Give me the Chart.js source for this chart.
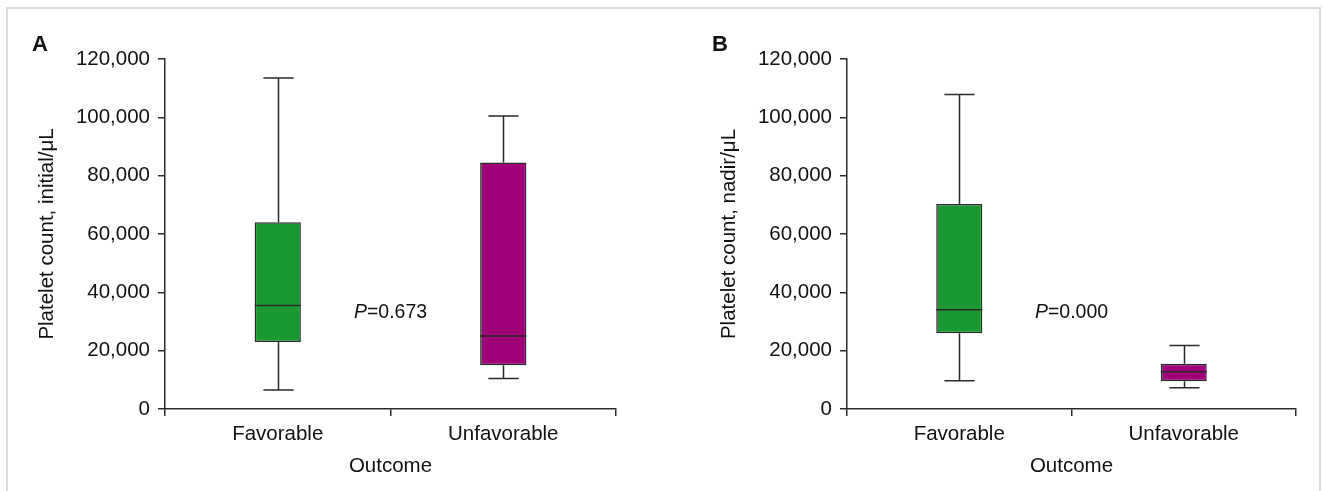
<!DOCTYPE html>
<html>
<head>
<meta charset="utf-8">
<script src="https://cdn.jsdelivr.net/npm/chart.js@4"></script>
<style>
  body { margin: 0; background: #fff; width: 1323px; height: 491px; overflow: hidden; position: relative; }
  .frame { position: absolute; left: 6px; top: 7px; width: 1311px; height: 490px;
           border: 2px solid #dcdcdc; border-bottom: none; }
  canvas { position: absolute; top: 0; }
  .panel { position: absolute; font: bold 22px "Liberation Sans", Arial, sans-serif; color: #111; }
</style>
</head>
<body>
<div class="frame"></div>
<canvas id="chartA" width="661" height="491" style="left:0"></canvas>
<canvas id="chartB" width="662" height="491" style="left:661px"></canvas>
<div class="panel" style="left:32px;top:31px">A</div>
<div class="panel" style="left:712px;top:31px">B</div>
<script>
// categories and box plot summaries
const outcomes = ['Favorable', 'Unfavorable'];
const yTicks = [0, 20000, 40000, 60000, 80000, 100000, 120000];

// Panel A: initial platelet count
const initialMin = [6500, 10500];
const initialQ1 = [23000, 15000];
const initialMedian = [35500, 25000];
const initialQ3 = [64000, 84500];
const initialMax = [113500, 100500];
const initialP = '0.673';

// Panel B: nadir platelet count
const nadirMin = [9700, 7300];
const nadirQ1 = [26000, 9500];
const nadirMedian = [34000, 12800];
const nadirQ3 = [70300, 15500];
const nadirMax = [107800, 21800];
const nadirP = '0.000';

const pLabelY = 33000;
const boxColors = ['#1a9933', '#a0007a'];
const lineColor = '#2a2a2a';
const fontFamily = '"Liberation Sans", Arial, sans-serif';
const fontSize = 20.5;

// whiskers, medians and the P value, drawn through the chart's scales
const boxPlugin = {
    id: 'boxWhisker',
    beforeDatasetsDraw(chart, args, opts) {
        const ctx = chart.ctx;
        const x = chart.scales.x, y = chart.scales.y;
        const capHalf = (x.width / outcomes.length) * 0.067;
        ctx.save();
        ctx.strokeStyle = lineColor;
        ctx.lineWidth = 1.5;
        outcomes.forEach((c, i) => {
            const cx = Math.round(x.getPixelForValue(i)) + 0.5;
            const yMax = y.getPixelForValue(opts.max[i]);
            const yMin = y.getPixelForValue(opts.min[i]);
            ctx.beginPath();
            ctx.moveTo(cx, y.getPixelForValue(opts.q3[i]));
            ctx.lineTo(cx, yMax);
            ctx.moveTo(cx - capHalf, yMax);
            ctx.lineTo(cx + capHalf, yMax);
            ctx.moveTo(cx, y.getPixelForValue(opts.q1[i]));
            ctx.lineTo(cx, yMin);
            ctx.moveTo(cx - capHalf, yMin);
            ctx.lineTo(cx + capHalf, yMin);
            ctx.stroke();
        });
        ctx.restore();
    },
    afterDatasetsDraw(chart, args, opts) {
        const ctx = chart.ctx;
        const x = chart.scales.x, y = chart.scales.y;
        ctx.save();
        ctx.strokeStyle = lineColor;
        ctx.lineWidth = 1.5;
        const meta = chart.getDatasetMeta(0);
        meta.data.forEach((bar, i) => {
            const half = bar.width / 2;
            const ym = y.getPixelForValue(opts.median[i]);
            ctx.beginPath();
            ctx.moveTo(bar.x - half, ym);
            ctx.lineTo(bar.x + half, ym);
            ctx.stroke();
        });

        // P value between the two groups
        const px = x.getPixelForValue(0.5);
        const py = y.getPixelForValue(pLabelY);
        const italic = 'italic 19.5px ' + fontFamily;
        const normal = '19.5px ' + fontFamily;
        ctx.font = italic;
        const wP = ctx.measureText('P').width;
        ctx.font = normal;
        const rest = '=' + opts.p;
        const wR = ctx.measureText(rest).width;
        const startX = px - (wP + wR) / 2;
        ctx.fillStyle = '#111';
        ctx.textBaseline = 'middle';
        ctx.textAlign = 'left';
        ctx.font = italic;
        ctx.fillText('P', startX, py);
        ctx.font = normal;
        ctx.fillText(rest, startX + wP, py);
        ctx.restore();
    }
};

function makeChart(id, yTitle, q1, median, q3, min, max, p, padLeft, padRight) {
    const ctx = document.getElementById(id).getContext('2d');
    return new Chart(ctx, {
        type: 'bar',
        data: {
            labels: outcomes,
            datasets: [{
                label: yTitle,
                data: outcomes.map((c, i) => [q1[i], q3[i]]),
                backgroundColor: boxColors,
                borderColor: lineColor,
                borderWidth: 1.5,
                borderSkipped: false,
                categoryPercentage: 1,
                barPercentage: 0.205
            }]
        },
        plugins: [boxPlugin],
        options: {
            responsive: false,
            animation: false,
            events: [],
            layout: { padding: { left: padLeft, right: padRight, top: 59, bottom: 8 } },
            plugins: {
                legend: { display: false },
                tooltip: { enabled: false },
                boxWhisker: { q1: q1, median: median, q3: q3, min: min, max: max, p: p }
            },
            scales: {
                x: {
                    afterFit: s => { s.height = 74; },
                    grid: { offset: true, drawOnChartArea: false, tickLength: 7, color: lineColor, lineWidth: 1.5 },
                    border: { display: true, color: lineColor, width: 1.5 },
                    ticks: { color: '#111', padding: 6, font: { family: fontFamily, size: fontSize } },
                    title: {
                        display: true, text: 'Outcome', color: '#111',
                        padding: { top: 4, bottom: 4 },
                        font: { family: fontFamily, size: fontSize }
                    }
                },
                y: {
                    min: 0,
                    max: 120000,
                    afterFit: s => { s.width = 134; },
                    afterBuildTicks: s => { s.ticks = yTicks.map(v => ({ value: v })); },
                    grid: { drawOnChartArea: false, tickLength: 7, color: lineColor, lineWidth: 1.5 },
                    border: { display: true, color: lineColor, width: 1.5 },
                    ticks: {
                        color: '#111', padding: 8,
                        font: { family: fontFamily, size: fontSize },
                        callback: v => v.toLocaleString('en-US')
                    },
                    title: {
                        display: true, text: yTitle, color: '#111',
                        padding: { top: 4, bottom: 4 },
                        font: { family: fontFamily, size: fontSize }
                    }
                }
            }
        }
    });
}

makeChart('chartA', 'Platelet count, initial/\u03bcL',
    initialQ1, initialMedian, initialQ3, initialMin, initialMax, initialP, 31, 45);
makeChart('chartB', 'Platelet count, nadir/\u03bcL',
    nadirQ1, nadirMedian, nadirQ3, nadirMin, nadirMax, nadirP, 52, 27);
</script>
</body>
</html>
